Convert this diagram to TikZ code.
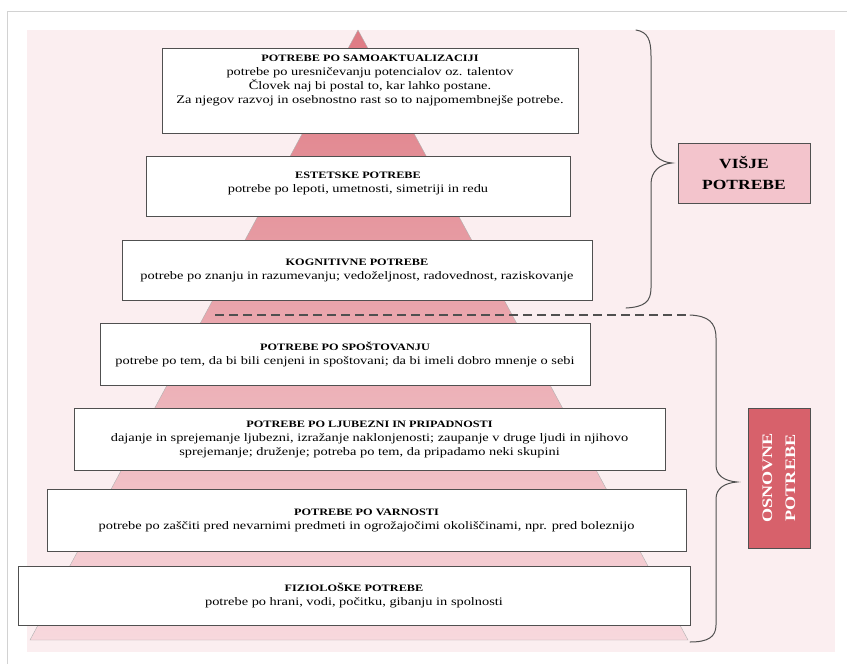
\documentclass[tikz,border=0pt]{standalone}
\usepackage{fontspec}
\setmainfont[FakeStretch=1.25]{Liberation Serif}
\usepackage{tikz}
\usetikzlibrary{positioning,shadows}
\definecolor{pyrtop}{HTML}{DE7A83}
\definecolor{pyrbot}{HTML}{F7D8DD}
\definecolor{bgpink}{HTML}{FBEEF0}
\definecolor{lblpink}{HTML}{F3C4CC}
\definecolor{lblred}{HTML}{D7616B}
\definecolor{lnegray}{HTML}{505050}
\newcommand{\lvlhead}[1]{{\fontsize{9.8}{14}\selectfont\bfseries #1}}

\begin{document}
\begin{tikzpicture}[x=1pt,y=-1pt,font=\fontsize{11.5}{14}\selectfont,
  lvl/.style={rectangle,draw=lnegray,line width=0.8pt,fill=white,align=center,inner sep=2pt,
    drop shadow={shadow xshift=0.6pt,shadow yshift=-1.4pt,fill=black!45}},
  grp/.style={rectangle,draw=lnegray,line width=0.8pt,align=center,inner sep=2pt},
  brc/.style={draw=lnegray,line width=1pt,line cap=round}]
\useasboundingbox (0,0) rectangle (847,664);
% ---- page ----
\draw[gray!35] (7,664) -- (7,11) -- (847,11);
\fill[bgpink] (27,30) rectangle (835,652);
% ---- pyramid ----
\path[top color=pyrtop,bottom color=pyrbot,draw=lnegray!45] (358,30) -- (688,640) -- (30,640) -- cycle;
% ---- levels ----
\node[lvl,minimum width=416pt,minimum height=85pt,text depth=22pt] (samo) at (370,90.5) {\lvlhead{POTREBE PO SAMOAKTUALIZACIJI}\\potrebe po uresničevanju potencialov oz. talentov\\Človek naj bi postal to, kar lahko postane.\\Za njegov razvoj in osebnostno rast so to najpomembnejše potrebe.};
\node[lvl,minimum width=424pt,minimum height=60pt,text depth=8pt] (estet) at (358,186) {\lvlhead{ESTETSKE POTREBE}\\potrebe po lepoti, umetnosti, simetriji in redu};
\node[lvl,minimum width=470pt,minimum height=60pt] (kogn) at (357,270) {\lvlhead{KOGNITIVNE POTREBE}\\potrebe po znanju in razumevanju; vedoželjnost, radovednost, raziskovanje};
\node[lvl,minimum width=490pt,minimum height=62pt] (spos) at (345,354) {\lvlhead{POTREBE PO SPOŠTOVANJU}\\potrebe po tem, da bi bili cenjeni in spoštovani; da bi imeli dobro mnenje o sebi};
\node[lvl,minimum width=591pt,minimum height=62pt] (ljub) at (369.5,439) {\lvlhead{POTREBE PO LJUBEZNI IN PRIPADNOSTI}\\dajanje in sprejemanje ljubezni, izražanje naklonjenosti; zaupanje v druge ljudi in njihovo\\sprejemanje; druženje; potreba po tem, da pripadamo neki skupini};
\node[lvl,minimum width=639pt,minimum height=62pt] (varn) at (366.5,520) {\lvlhead{POTREBE PO VARNOSTI}\\potrebe po zaščiti pred nevarnimi predmeti in ogrožajočimi okoliščinami, npr. pred boleznijo};
\node[lvl,minimum width=672pt,minimum height=59pt] (fizio) at (354,595.5) {\lvlhead{FIZIOLOŠKE POTREBE}\\potrebe po hrani, vodi, počitku, gibanju in spolnosti};
% ---- groups ----
\node[grp,fill=lblpink,minimum width=132pt,minimum height=60pt,font=\fontsize{14}{21}\selectfont\bfseries] (visje) at (744,173) {VIŠJE\\POTREBE};
\node[grp,fill=lblred,text=white,rotate=90,minimum width=140pt,minimum height=62pt,font=\fontsize{14.5}{23}\selectfont\bfseries] (osnov) at (779,478) {OSNOVNE\\POTREBE};
\draw[brc] (636,30) .. controls (648,32) and (651,40) .. (651,56) -- (651,142) .. controls (651,155) and (660,162) .. (672,163) .. controls (660,164) and (651,171) .. (651,184) -- (651,288) .. controls (651,302) and (644,307) .. (626,308);
\draw[lnegray,line width=1.4pt,dash pattern=on 9pt off 5pt] (215,315) -- (690,315);
\draw[brc] (690,315) .. controls (708,316) and (716,322) .. (716,338) -- (716,465) .. controls (716,476) and (725,481) .. (737,482) .. controls (725,483) and (716,488) .. (716,499) -- (716,625) .. controls (716,637) and (708,642) .. (690,642);
\end{tikzpicture}
\end{document}
